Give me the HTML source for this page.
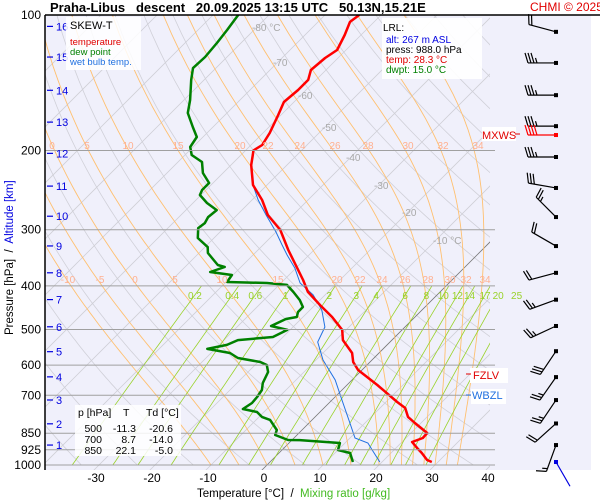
<!DOCTYPE html>
<html><head><meta charset="utf-8"><style>
html,body{margin:0;padding:0;background:#fff;}
svg{display:block;font-family:"Liberation Sans",sans-serif;}
svg text{white-space:pre;}
</style></head><body>
<svg id="chart" width="600" height="500" viewBox="0 0 600 500" xmlns="http://www.w3.org/2000/svg">
<defs><clipPath id="plotclip"><rect x="45" y="15" width="445" height="455"/></clipPath></defs>
<rect x="45" y="15" width="546" height="455" fill="#f0f0fb"/>
<g id="bg" clip-path="url(#plotclip)"></g>
<g id="series" clip-path="url(#plotclip)"></g>
<g id="overlay"></g>
<line x1="45" y1="15" x2="600" y2="15" stroke="#000" stroke-width="1.5"/>
<line x1="45" y1="15" x2="45" y2="470" stroke="#000" stroke-width="1.5"/>
<text x="50" y="12" font-size="13" font-weight="bold">Praha-Libus   descent   20.09.2025 13:15 UTC   50.13N,15.21E</text>
<text x="530" y="11" font-size="12" fill="#e00000">CHMI © 2025</text>
<g>
<rect x="66" y="17" width="75" height="53" fill="#fff" opacity="0.85"/>
<text x="70" y="29" font-size="11">SKEW-T</text>
<text x="70" y="45" font-size="9.5" fill="#e00000">temperature</text>
<text x="70" y="55" font-size="9.5" fill="#008000">dew point</text>
<text x="70" y="65" font-size="9.5" fill="#2070e0">wet bulb temp.</text>
</g>
<g>
<rect x="382" y="18" width="100" height="61" fill="#fff" opacity="0.9"/>
<text x="383" y="31" font-size="10">LRL:</text>
<text x="386" y="43" font-size="10" fill="#0000e0">alt: 267 m ASL</text>
<text x="386" y="53" font-size="10">press: 988.0 hPa</text>
<text x="386" y="63" font-size="10" fill="#e00000">temp: 28.3 °C</text>
<text x="386" y="73" font-size="10" fill="#008000">dwpt: 15.0 °C</text>
</g>
<g>
<rect x="75" y="405" width="106" height="51" fill="#fff" opacity="0.85"/>
<text x="78" y="416" font-size="10.5">p [hPa]</text><text x="123" y="416" font-size="10.5">T</text><text x="146" y="416" font-size="10.5">Td [°C]</text>
<text x="102" y="432" font-size="10.5" text-anchor="end">500</text><text x="136" y="432" font-size="10.5" text-anchor="end">-11.3</text><text x="173" y="432" font-size="10.5" text-anchor="end">-20.6</text>
<text x="102" y="443" font-size="10.5" text-anchor="end">700</text><text x="136" y="443" font-size="10.5" text-anchor="end">8.7</text><text x="173" y="443" font-size="10.5" text-anchor="end">-14.0</text>
<text x="102" y="454" font-size="10.5" text-anchor="end">850</text><text x="136" y="454" font-size="10.5" text-anchor="end">22.1</text><text x="173" y="454" font-size="10.5" text-anchor="end">-5.0</text>
</g>
<g><rect x="470" y="368" width="38" height="15" fill="#fff"/><line x1="466" y1="374" x2="471" y2="374" stroke="#e00000"/><text x="473" y="379" font-size="11" fill="#e00000">FZLV</text></g>
<g><rect x="471" y="389" width="35" height="15" fill="#fff"/><line x1="466" y1="395" x2="471" y2="395" stroke="#2070e0"/><text x="472" y="399" font-size="11" fill="#2070e0">WBZL</text></g>
<g><rect x="482" y="127" width="34" height="14" fill="#fff"/><text x="482" y="139" font-size="11" fill="#e00000">MXWS</text><line x1="515" y1="134" x2="520" y2="134" stroke="#e00000"/></g>
<text x="197" y="497" font-size="11.5">Temperature [°C]  /  <tspan fill="#44bb22">Mixing ratio [g/kg]</tspan></text>
<text transform="translate(13,335) rotate(-90)" font-size="11.5">Pressure [hPa]  /  <tspan fill="#0000e0">Altitude [km]</tspan></text>
<script>
var tempP=[100,103.6,110.8,119.6,124.6,132.5,139.4,146.8,156.1,166.8,182.9,194.5,200,204.7,215.4,238.6,257.7,278.3,300.4,332.8,388,412.5,441,469,501,527.7,563.8,590.3,615,664,724.4,747,782,806.5,849,871,889,917,940.6,974.7,984.8];
var tempT=[-63.9,-64.3,-62.9,-61.6,-62.3,-62.7,-61.4,-61.4,-61.8,-60.5,-58.8,-58.0,-58.6,-57.9,-56.4,-52.5,-48.2,-44.5,-39.6,-34.6,-26.6,-23.6,-19.1,-14.8,-10.7,-8.75,-4.8,-3.0,-0.7,5.4,12.0,14.5,16.6,18.9,22.9,23.0,21.8,23.8,25.5,27.7,28.9];
var dewP=[100,108,115.4,124,131.2,139.4,154.5,165.1,177.4,186.7,196.5,204.7,212.2,224.4,236.2,244.8,251.2,261.7,271.3,281.2,290,297.5,313,328,338,359.4,363.1,372.5,378.3,392,394,398,412.5,430,445.6,457,469,473.8,491,501,519.5,527.7,541,552,563.8,578.4,590.3,599.5,621.4,657.3,681.3,706.3,728,751,762.6,782,794,836,857.7,880,880.5,893.6,926,940.6,984.8];
var dewT=[-85.5,-84.8,-84.3,-83.9,-84.1,-82.3,-78.9,-77.0,-73.6,-71.1,-70.5,-68.8,-65.7,-63.6,-60.7,-60.7,-60.2,-57.5,-54.5,-54.8,-54.3,-54.6,-52.9,-49.5,-48.4,-44.5,-42.9,-44.6,-40.2,-39.8,-32.5,-28.6,-26.2,-23.6,-21.8,-21.8,-21.1,-22.7,-24.1,-20.5,-21.8,-27.5,-28.6,-31.4,-26.6,-24.3,-19.6,-17.9,-16.4,-15.4,-14.3,-13.9,-13.75,-14.3,-11.25,-9.5,-7.5,-4.5,-3.9,-0.7,1.4,9.1,10.0,12.7,14.8];
var wbP=[242.3,257.7,278.3,303.5,324.4,341.5,365,394,419,452.4,493.6,533,584.4,647.4,717.3,806.5,871,893.6,926,984.8];
var wbT=[-51.8,-48.9,-44.8,-40.0,-36.6,-33.9,-30.2,-26.6,-22.1,-17.9,-14.3,-12.9,-8.75,-3.0,1.8,7.3,10.9,14.1,16.1,19.6];
var windP=[109,127.8,150.7,176.6,206.8,242.3,281.2,326.2,374.1,429.2,491,558.6,637.8,717.3,808.6,903,984.8];
var windDir=[285,270,270,270,270,280,315,300,255,250,245,214,215,214,228,200,150];
var windSpd=[20,35,35,35,35,30,25,20,20,25,25,30,25,25,20,15,0];
var mxwsP=[184.8];var mxwsDir=[270];var mxwsSpd=[40];
var pressTicks=[100,200,300,400,500,600,700,850,925,1000];
var tempTicks=[-30,-20,-10,0,10,20,30,40];
var altKm=[1,2,3,4,5,6,7,8,9,10,11,12,13,14,15,16];
var altP=[903,810,717,637,560,493,429,374,326,280,240,203,173,147,124,106];
var mixR=[0.2,0.4,0.6,1,2,3,4,6,8,10,12,14,17,20,25];
var thetaW=[-10,-5,0,5,10,15,20,22,24,26,28,30,32,34];
var NS="http://www.w3.org/2000/svg";
function Y(p){return 15+450*Math.log10(p/100);}
function X(t,p){return 264+5.6*t+(468-Y(p));}
function mk(tag,parent,attrs){var e=document.createElementNS(NS,tag);for(var k in attrs)e.setAttribute(k,attrs[k]);parent.appendChild(e);return e;}
var bg=document.getElementById('bg'),sr=document.getElementById('series'),ov=document.getElementById('overlay');
function pts(ps,ts){return ps.map(function(p,i){return X(ts[i],p).toFixed(1)+','+Y(p).toFixed(1);}).join(' ');}
var pl=[];for(var p=1000;p>=100;p-=10)pl.push(p);
for(var th=230;th<=480;th+=10){var a=[];pl.forEach(function(p){var t=th*Math.pow(p/1000,0.286)-273.15;a.push(X(t,p).toFixed(1)+','+Y(p).toFixed(1));});
var e=mk('polyline',bg,{points:a.join(' '),fill:'none',stroke:'#d0d0d8','stroke-width':0.8});

}
for(var t=-120;t<=50;t+=10){var e=mk('line',bg,{x1:X(t,1050),y1:Y(1050),x2:X(t,100),y2:Y(100),stroke:t===0?'#777':'#cfcfd6','stroke-width':0.8});

}
function es(tc){return 6.112*Math.exp(17.67*tc/(tc+243.5));}
thetaW.forEach(function(tw){var T=tw+273.15,p=1000,a=[X(tw,1000).toFixed(1)+','+Y(1000).toFixed(1)];
while(p>100){var dp=-2;var e1=es(T-273.15),rs=0.622*e1/(p-e1);var dT=(287*T+2.5e6*rs)/(1005+2.5e6*2.5e6*rs*0.622/(287*T*T))/p*dp;T+=dT;p+=dp;if(Math.round(p)%10===0)a.push(X(T-273.15,p).toFixed(1)+','+Y(p).toFixed(1));}
var e=mk('polyline',bg,{points:a.join(' '),fill:'none',stroke:'#ffc070','stroke-width':0.9});

});
mixR.forEach(function(r){var a=[];for(var p=1000;p>=400;p-=20){var e1=r*p/(622+r),l=Math.log(e1/6.112),td=243.5*l/(17.67-l);a.push(X(td,p).toFixed(1)+','+Y(p).toFixed(1));}
var e=mk('polyline',bg,{points:a.join(' '),fill:'none',stroke:'#99d22a','stroke-width':0.8});


var pp=419,e2=r*pp/(622+r),l2=Math.log(e2/6.112),td2=243.5*l2/(17.67-l2);
var tx=mk('text',ov,{x:X(td2,pp).toFixed(1),y:299,'font-size':10,fill:'#99d22a','text-anchor':'middle'});tx.textContent=String(r);

});
var mlab1=[[0,52],[5,87],[10,128],[15,178],[20,240],[22,268],[24,300],[26,335],[28,368],[30,408],[32,443],[34,478]];
var mlab2=[[-10,68],[-5,100],[0,135],[5,175],[10,222],[15,278],[20,337],[22,360],[24,382],[26,405],[28,428],[30,450],[32,466],[34,485]];
mlab1.forEach(function(m){var tx=mk('text',ov,{x:m[1],y:149,'font-size':10,fill:'#ffb090','text-anchor':'middle'});tx.textContent=String(m[0]);

});
mlab2.forEach(function(m){var tx=mk('text',ov,{x:m[1],y:283,'font-size':10,fill:'#ffb090','text-anchor':'middle'});tx.textContent=String(m[0]);

});
[['-80 °C',252,31],['-70',273,66],['-60',298,99],['-50',322,131],['-40',346,161],['-30',374,189],['-20',402,216],['-10 °C',433,244]].forEach(function(m){var tx=mk('text',bg,{x:m[1],y:m[2],'font-size':10,fill:'#a8a8a8'});tx.textContent=m[0];

});
pressTicks.forEach(function(p){if(p>100){var e=mk('line',ov,{x1:45,y1:Y(p),x2:495,y2:Y(p),stroke:'#a0a0a0','stroke-width':1});

}
var tx=mk('text',ov,{x:41,y:Y(p)+4,'font-size':12,'text-anchor':'end'});tx.textContent=String(p);

});
tempTicks.forEach(function(t){var tx=mk('text',ov,{x:264+5.6*t,y:482,'font-size':12,'text-anchor':'middle'});tx.textContent=String(t);

});
altKm.forEach(function(k,i){var y=Y(altP[i]);var ln=mk('line',ov,{x1:47,y1:y,x2:53,y2:y,stroke:'#0000e0','stroke-width':1.2});


var tx=mk('text',ov,{x:56,y:y+4,'font-size':11,fill:'#0000e0'});tx.textContent=String(k);

});
var wb=mk('polyline',sr,{points:pts(wbP,wbT),fill:'none',stroke:'#2070e0','stroke-width':1});


var dw=mk('polyline',sr,{points:pts(dewP,dewT),fill:'none',stroke:'#008000','stroke-width':2.5,'stroke-linejoin':'round'});


var tp=mk('polyline',sr,{points:pts(tempP,tempT),fill:'none',stroke:'#ff0000','stroke-width':2.5,'stroke-linejoin':'round'});


function barb(p,d,s,col,x0){var y0=Y(p),r=d*Math.PI/180,vx=Math.sin(r),vy=-Math.cos(r),L=28;
var g=mk('g',ov,{stroke:col,'stroke-width':1.2,fill:'none'});


mk('line',g,{x1:x0,y1:y0,x2:x0+vx*L,y2:y0+vy*L});mk('rect',g,{x:x0-2,y:y0-2,width:4,height:4,fill:col,stroke:'none'});
var fx=-vy,fy=vx,pos=L,rem=s;
while(rem>=10){var bx=x0+vx*pos,by=y0+vy*pos;mk('line',g,{x1:bx,y1:by,x2:bx+fx*10+vx*3,y2:by+fy*10+vy*3});pos-=3;rem-=10;}
if(rem>=5){var bx=x0+vx*pos,by=y0+vy*pos;mk('line',g,{x1:bx,y1:by,x2:bx+fx*5+vx*1.5,y2:by+fy*5+vy*1.5});}}
windP.forEach(function(p,i){barb(p,windDir[i],windSpd[i],i===windP.length-1?'#0000e0':'#000',556);});
mxwsP.forEach(function(p,i){barb(p,mxwsDir[i],mxwsSpd[i],'#ff0000',556);});
</script>
</svg>
</body></html>
